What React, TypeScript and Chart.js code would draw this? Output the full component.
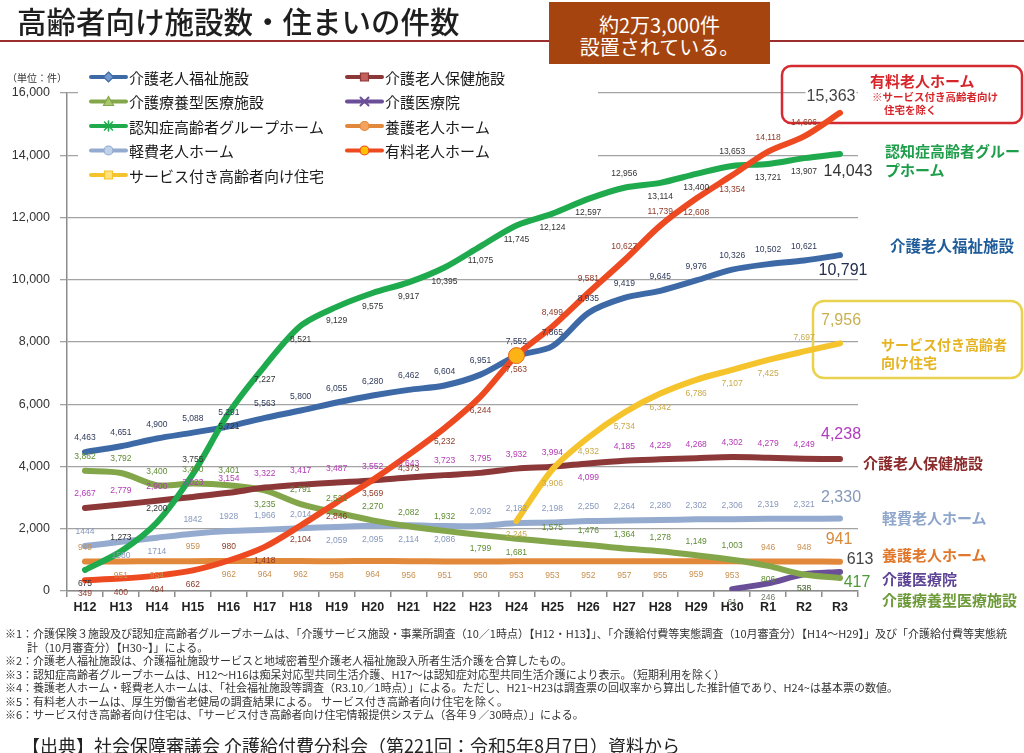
import React, { useEffect, useRef } from 'react';
import { Chart, registerables } from 'chart.js';

Chart.register(...registerables);

const CATEGORIES = ['H12','H13','H14','H15','H16','H17','H18','H19','H20','H21','H22','H23','H24','H25','H26','H27','H28','H29','H30','R1','R2','R3'];

const SERIES_NAMES = ['介護老人福祉施設','介護老人保健施設','介護療養型医療施設','介護医療院','認知症高齢者グループホーム','養護老人ホーム','軽費老人ホーム','有料老人ホーム','サービス付き高齢者向け住宅'];

const fukushi = [4463,4651,4900,5088,5291,5563,5800,6055,6280,6462,6604,6951,7552,7865,8935,9419,9645,9976,10326,10502,10621,10791];
const roken = [2667,2779,2900,3023,3154,3322,3417,3487,3552,3643,3723,3795,3932,3994,4099,4185,4229,4268,4302,4279,4249,4238];
const ryoyo = [3862,3792,3400,3450,3401,3235,2791,2521,2270,2082,1932,1799,1681,1575,1476,1364,1278,1149,1003,806,528,417];
const iryoin = [null,null,null,null,null,null,null,null,null,null,null,null,null,null,null,null,null,null,61,246,535,613];
const ninchisho = [675,1273,2200,3755,5721,7227,8521,9129,9575,9917,10395,11075,11745,12124,12597,12956,13114,13400,13653,13721,13907,14043];
const yogo = [949,951,954,959,962,964,962,958,964,956,951,950,953,953,952,957,955,959,953,946,948,941];
const keihi = [1444,1580,1714,1842,1928,1966,2014,2059,2095,2114,2086,2092,2182,2198,2250,2264,2280,2302,2306,2319,2321,2330];
const yuryo = [349,400,494,662,980,1418,2104,2846,3569,4373,5232,6244,7563,8499,9581,10627,11739,12608,13354,14118,14606,15363];
const sakoju = [null,null,null,null,null,null,null,null,null,null,null,null,2245,3906,4932,5734,6342,6786,7107,7425,7697,7956];

const SERIES_VALUES = [fukushi, roken, ryoyo, iryoin, ninchisho, yogo, keihi, yuryo, sakoju];

const Y_TICKS = [0,2000,4000,6000,8000,10000,12000,14000,16000];

// styles (not data)
const STYLES = [
  { color: '#3D6AA7', label: '#2E3A5A', marker: 'diamond', mfill: '#7397CF', order: 3,
    pos: 'a'.repeat(21) + '-', end: { dx: 3, dy: 15, color: '#25304F' } },
  { color: '#8C3838', label: '#B23AB4', marker: 'square', mfill: '#C4605C', order: 4,
    pos: 'a'.repeat(14) + 'b' + 'a'.repeat(6) + '-', end: { dx: 1, dy: -24, color: '#B23AC0' } },
  { color: '#84A64A', label: '#5E8C32', marker: 'triangle', mfill: '#A8C870', order: 4,
    pos: 'aaaaa' + 'b' + 'a' + 'aaaa' + 'bb' + 'aaaaaa' + 'bb' + '-', end: { dx: 17, dy: 5, color: '#4E9A3A' } },
  { color: '#6A4E98', label: '#6E7A66', marker: 'cross', mfill: '#8A72B8', order: 4,
    pos: '-'.repeat(18) + 'bbb' + '-', end: { dx: 20, dy: -12, color: '#444444' } },
  { color: '#1FAA4E', label: '#333333', marker: 'star', mfill: '#1FAA4E', order: 1,
    pos: 'b' + 'aaa' + 'b'.repeat(11) + 'a' + 'bb' + 'a' + 'bb' + '-', end: { dx: 8, dy: 18, color: '#333333' } },
  { color: '#E2883B', label: '#C98F4E', marker: 'circle', mfill: '#F5A460', order: 4,
    pos: 'a' + 'bb' + 'a' + 'b'.repeat(15) + 'aa' + '-', end: { dx: -1, dy: -22, color: '#D98A3A' } },
  { color: '#94AACF', label: '#8798BD', marker: 'circle', mfill: '#C0D2EA', order: 4, noCommaUntil: 5,
    pos: 'a' + 'bb' + 'aaaa' + 'bbbb' + 'a'.repeat(10) + '-', end: { dx: 1, dy: -21, color: '#8599B8' } },
  { color: '#EE4A22', label: '#8E3A28', marker: 'circle', mfill: '#FFC000', order: 0,
    pos: 'bbbb' + 'a' + 'b'.repeat(8) + 'aaaa' + 'bb' + 'aa' + '-', end: { dx: -9, dy: -16, color: '#444444', bg: true } },
  { color: '#F5C42C', label: '#C9A94A', marker: 'square', mfill: '#FFE27A', order: 2,
    pos: '-'.repeat(12) + 'b'.repeat(8) + 'a' + '-', end: { dx: 1, dy: -23, color: '#C8B052' } },
];

const fmt = (v: number, comma = true) => (comma ? v.toLocaleString('en-US') : String(v));

function drawMarker(ctx: CanvasRenderingContext2D, kind: string, x: number, y: number, stroke: string, fill: string) {
  const r = 5;
  ctx.save();
  ctx.lineWidth = 1.2;
  ctx.strokeStyle = stroke;
  ctx.fillStyle = fill;
  ctx.beginPath();
  if (kind === 'diamond') {
    ctx.moveTo(x, y - r); ctx.lineTo(x + r, y); ctx.lineTo(x, y + r); ctx.lineTo(x - r, y); ctx.closePath();
    ctx.fill(); ctx.stroke();
  } else if (kind === 'square') {
    ctx.rect(x - 4, y - 4, 8, 8); ctx.fill(); ctx.stroke();
  } else if (kind === 'triangle') {
    ctx.moveTo(x, y - r); ctx.lineTo(x + r, y + 4); ctx.lineTo(x - r, y + 4); ctx.closePath();
    ctx.fill(); ctx.stroke();
  } else if (kind === 'circle') {
    ctx.arc(x, y, 4.5, 0, Math.PI * 2); ctx.fill(); ctx.stroke();
  } else if (kind === 'cross') {
    ctx.lineWidth = 2;
    ctx.moveTo(x - 4, y - 4); ctx.lineTo(x + 4, y + 4); ctx.moveTo(x + 4, y - 4); ctx.lineTo(x - 4, y + 4); ctx.stroke();
  } else if (kind === 'star') {
    ctx.lineWidth = 1.6;
    ctx.moveTo(x - 4, y - 4); ctx.lineTo(x + 4, y + 4); ctx.moveTo(x + 4, y - 4); ctx.lineTo(x - 4, y + 4);
    ctx.moveTo(x, y - 5); ctx.lineTo(x, y + 5); ctx.stroke();
  }
  ctx.restore();
}

const backgroundPlugin = {
  id: 'bgBoxes',
  beforeDatasetsDraw(chart: any) {
    const ctx: CanvasRenderingContext2D = chart.ctx;
    ctx.save();
    // legend background
    ctx.fillStyle = '#ffffff';
    ctx.fillRect(78, 60, 520, 130);
    // legend
    chart.data.datasets.forEach((ds: any, i: number) => {
      const row = Math.floor(i / 2);
      const col = i % 2;
      const y = 77 + row * 24.5;
      const x0 = col === 0 ? 91 : 347;
      const st = STYLES[i];
      ctx.strokeStyle = st.color;
      ctx.lineWidth = 4;
      ctx.lineCap = 'round';
      ctx.beginPath();
      ctx.moveTo(x0, y); ctx.lineTo(x0 + 35, y); ctx.stroke();
      drawMarker(ctx, st.marker, x0 + 17.5, y, st.color, st.mfill);
      ctx.fillStyle = '#1a1a1a';
      ctx.font = '15px "Noto Sans CJK JP", sans-serif';
      ctx.textAlign = 'left';
      ctx.textBaseline = 'middle';
      ctx.fillText(ds.label, x0 + 38, y + 1);
    });
    // annotation boxes
    ctx.lineWidth = 2.5;
    ctx.strokeStyle = '#D42A30';
    ctx.beginPath();
    ctx.roundRect(782, 66, 240, 57, 9);
    ctx.stroke();
    ctx.strokeStyle = '#E9D24E';
    ctx.beginPath();
    ctx.roundRect(813, 301, 209, 77, 11);
    ctx.stroke();
    ctx.restore();
  },
};

const labelPlugin = {
  id: 'pointLabels',
  afterDatasetsDraw(chart: any) {
    const ctx: CanvasRenderingContext2D = chart.ctx;
    chart.data.datasets.forEach((ds: any, i: number) => {
      const meta = chart.getDatasetMeta(i);
      const st: any = STYLES[i];
      ctx.save();
      ctx.textAlign = 'center';
      ctx.textBaseline = 'middle';
      ctx.font = '8.5px "Liberation Sans", Arial, sans-serif';
      ctx.fillStyle = st.label;
      meta.data.forEach((pt: any, j: number) => {
        const v = ds.data[j];
        if (v == null) return;
        const p = st.pos[j];
        if (!p || p === '-') return;
        const comma = st.noCommaUntil ? j >= st.noCommaUntil : true;
        ctx.fillText(fmt(v, comma), pt.x, pt.y + (p === 'a' ? -14 : 14));
      });
      const lastIdx = ds.data.length - 1;
      const last = meta.data[lastIdx];
      const txt = fmt(ds.data[lastIdx]);
      ctx.font = '16px "Liberation Sans", Arial, sans-serif';
      const lx = last.x + st.end.dx;
      const ly = last.y + st.end.dy;
      if (st.end.bg) {
        const w = ctx.measureText(txt).width;
        ctx.fillStyle = '#ffffff';
        ctx.fillRect(lx - w / 2 - 1, ly - 8, w + 2, 16);
      }
      ctx.fillStyle = st.end.color;
      ctx.fillText(txt, lx, ly);
      ctx.restore();
    });
  },
};

const sideLabels = [
  { x: 870, cy: 80, size: 15, color: '#D7262B', lines: ['有料老人ホーム'] },
  { x: 872, cy: 97, size: 10.5, color: '#D7262B', lines: ['※サービス付き高齢者向け'] },
  { x: 884, cy: 110, size: 10.5, color: '#D7262B', lines: ['住宅を除く'] },
  { x: 885, cy: 150, size: 15, color: '#1E9E4A', lines: ['認知症高齢者グルー'] },
  { x: 885, cy: 169, size: 15, color: '#1E9E4A', lines: ['プホーム'] },
  { x: 890, cy: 246, size: 15.5, color: '#1F5C99', lines: ['介護老人福祉施設'] },
  { x: 881, cy: 344, size: 14, color: '#E6B422', lines: ['サービス付き高齢者'] },
  { x: 881, cy: 362, size: 14, color: '#E6B422', lines: ['向け住宅'] },
  { x: 863, cy: 462, size: 15, color: '#8B2B2B', lines: ['介護老人保健施設'] },
  { x: 882, cy: 517, size: 15, color: '#8EA6CB', lines: ['軽費老人ホーム'] },
  { x: 882, cy: 554, size: 15, color: '#E0772A', lines: ['養護老人ホーム'] },
  { x: 882, cy: 578, size: 15, color: '#5F4596', lines: ['介護医療院'] },
  { x: 882, cy: 599, size: 15, color: '#6E9B3A', lines: ['介護療養型医療施設'] },
];

const FOOTNOTES = [
  '※1：介護保険３施設及び認知症高齢者グループホームは、「介護サービス施設・事業所調査（10／1時点）【H12・H13】」、「介護給付費等実態調査（10月審査分）【H14～H29】」及び「介護給付費等実態統',
  '　　計（10月審査分）【H30~】」による。',
  '※2：介護老人福祉施設は、介護福祉施設サービスと地域密着型介護老人福祉施設入所者生活介護を合算したもの。',
  '※3：認知症高齢者グループホームは、H12～H16は痴呆対応型共同生活介護、H17～は認知症対応型共同生活介護により表示。（短期利用を除く）',
  '※4：養護老人ホーム・軽費老人ホームは、「社会福祉施設等調査（R3.10／1時点）」による。ただし、H21~H23は調査票の回収率から算出した推計値であり、H24~は基本票の数値。',
  '※5：有料老人ホームは、厚生労働省老健局の調査結果による。 サービス付き高齢者向け住宅を除く。',
  '※6：サービス付き高齢者向け住宅は、「サービス付き高齢者向け住宅情報提供システム（各年９／30時点）」による。',
];

const JP = '"Noto Sans CJK JP", "Noto Sans", sans-serif';

export default function App() {
  const ref = useRef<HTMLCanvasElement>(null);

  useEffect(() => {
    const canvas = ref.current;
    if (!canvas) return;
    const chart = new Chart(canvas, {
      type: 'line',
      data: {
        labels: CATEGORIES,
        datasets: SERIES_NAMES.map((name, i) => ({
          label: name,
          data: SERIES_VALUES[i],
          borderColor: STYLES[i].color,
          backgroundColor: STYLES[i].color,
          borderWidth: 6,
          tension: 0.3,
          fill: false,
          order: STYLES[i].order,
          spanGaps: false,
          borderJoinStyle: 'round',
          borderCapStyle: 'round',
          pointRadius: i === 7 ? SERIES_VALUES[i].map((_, j) => (j === 12 ? 8 : 0)) : 0,
          pointBackgroundColor: '#FDB316',
          pointBorderColor: '#E8641E',
          pointBorderWidth: 1,
        })) as any,
      },
      options: {
        responsive: false,
        animation: false,
        layout: { padding: { left: 0, top: 93, right: 166, bottom: 132 } },
        plugins: { legend: { display: false }, tooltip: { enabled: false } },
        scales: {
          x: {
            type: 'category',
            offset: true,
            grid: { offset: true, drawOnChartArea: false, drawTicks: true, tickLength: 6, color: '#8c8c8c', lineWidth: 1.5 },
            border: { color: '#8c8c8c', width: 1.5 },
            ticks: { color: '#222', font: { size: 12.5, weight: 'bold', family: '"Liberation Sans", Arial, sans-serif' }, padding: 3, maxRotation: 0, autoSkip: false },
            afterFit: (s: any) => { s.height = 30; },
          },
          y: {
            min: 0,
            max: 16000,
            afterBuildTicks: (s: any) => { s.ticks = Y_TICKS.map((v) => ({ value: v })); },
            ticks: { color: '#333', font: { size: 12.5, family: '"Liberation Sans", Arial, sans-serif' }, padding: 10, callback: (v: any) => Number(v).toLocaleString('en-US') },
            grid: { color: '#a3a3a3', lineWidth: 1.3, tickLength: 7 },
            border: { color: '#8c8c8c', width: 1.5 },
            afterFit: (s: any) => { s.width = 67; },
          },
        },
      } as any,
      plugins: [backgroundPlugin, labelPlugin],
    });
    return () => chart.destroy();
  }, []);

  return (
    <div style={{ position: 'absolute', left: 0, top: 0, width: 1024, height: 753, background: '#fff', overflow: 'hidden', fontFamily: JP }}>
      <canvas ref={ref} width={1024} height={753} style={{ position: 'absolute', left: 0, top: 0 }} />
      <div style={{ position: 'absolute', left: 17, top: 4, fontSize: 29.5, lineHeight: '33px', fontWeight: 500, color: '#1e1e1e', whiteSpace: 'nowrap' }}>高齢者向け施設数・住まいの件数</div>
      <div style={{ position: 'absolute', left: 0, top: 40, width: 1024, height: 2, background: '#9B2D2D' }} />
      <div style={{ position: 'absolute', left: 549, top: 2, width: 221, height: 62, background: '#A5440F', color: '#fff', fontSize: 20, lineHeight: '22px', display: 'flex', flexDirection: 'column', alignItems: 'center', justifyContent: 'center', paddingTop: 6, boxSizing: 'border-box' }}>
        <div>約2万3,000件</div>
        <div>設置されている。</div>
      </div>
      <div style={{ position: 'absolute', left: 7, top: 72, fontSize: 10, lineHeight: '12px', color: '#333', whiteSpace: 'nowrap' }}>（単位：件）</div>
      {sideLabels.map((s, i) => (
        <div key={i} style={{ position: 'absolute', left: s.x, top: s.cy - s.size / 2, fontSize: s.size, lineHeight: 1, fontWeight: 700, color: s.color, whiteSpace: 'nowrap' }}>{s.lines[0]}</div>
      ))}
      <div style={{ position: 'absolute', left: 5, top: 627, fontSize: 11, lineHeight: '13.5px', color: '#333', whiteSpace: 'pre' }}>
        {FOOTNOTES.map((f, i) => (<div key={i}>{f}</div>))}
      </div>
      <div style={{ position: 'absolute', left: 22, top: 735, fontSize: 18, lineHeight: '20px', color: '#222', whiteSpace: 'nowrap' }}>【出典】社会保障審議会 介護給付費分科会（第221回：令和5年8月7日）資料から</div>
    </div>
  );
}
